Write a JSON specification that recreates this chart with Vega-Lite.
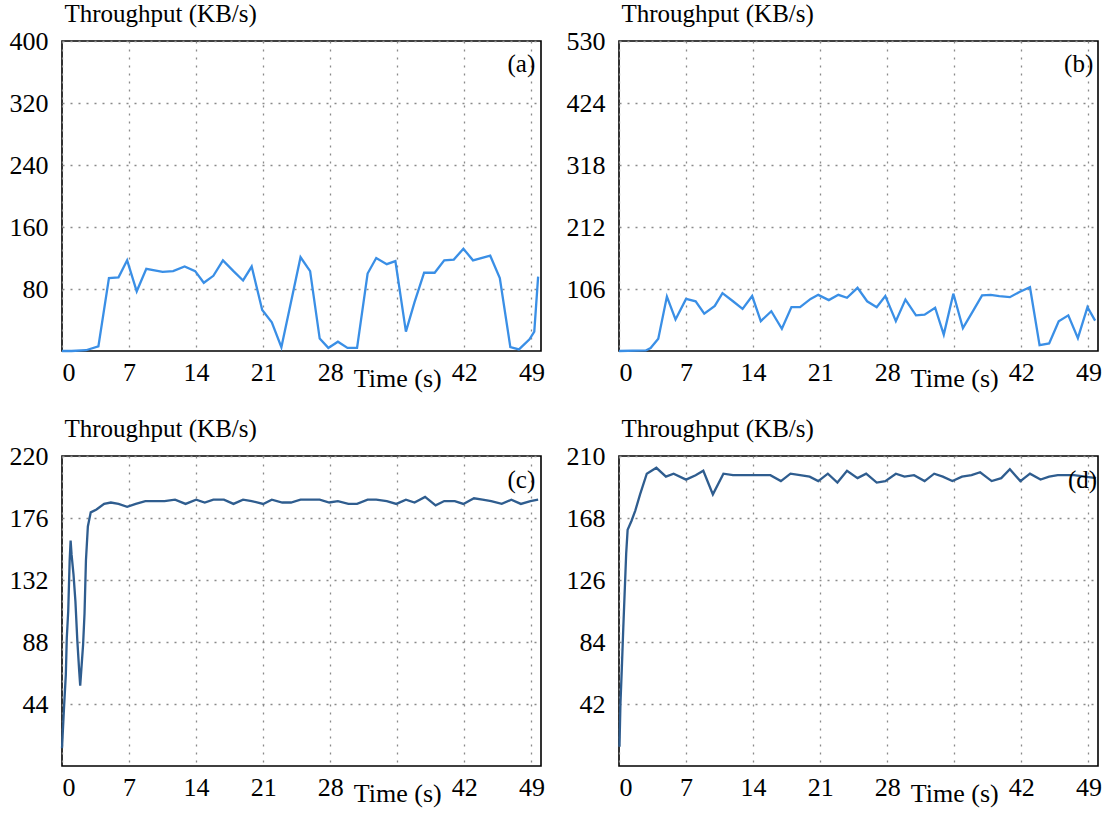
{
  "$schema": "https://vega.github.io/schema/vega-lite/v6.json",
  "background": "white",
  "padding": {"left": 8, "top": 0, "right": 4, "bottom": 4},
  "autosize": {"type": "pad"},
  "config": {
    "font": "Liberation Serif",
    "view": {"stroke": "black", "strokeWidth": 1.6},
    "axis": {
      "labelFont": "Liberation Serif", "labelFontSize": 26, "labelColor": "black",
      "titleFont": "Liberation Serif", "titleFontSize": 25, "titleFontWeight": "normal", "titleColor": "black",
      "domain": false, "ticks": false, "grid": true,
      "gridColor": "#8a8a8a", "gridDash": [2, 6], "gridWidth": 1.3
    },
    "axisX": {"labelPadding": 8, "title": null},
    "axisY": {"labelPadding": 14, "titleAngle": 0, "titleAlign": "left", "titleBaseline": "alphabetic", "titleX": 2, "titleY": -20}
  },
  "datasets": {
    "a": [
      {"t": 0, "v": 0}, {"t": 1, "v": 0}, {"t": 2.5, "v": 1}, {"t": 3.8, "v": 6}, {"t": 4.9, "v": 94}, {"t": 5.9, "v": 95}, {"t": 6.8, "v": 117}, {"t": 7.8, "v": 77}, {"t": 8.8, "v": 106}, {"t": 10.5, "v": 102}, {"t": 11.6, "v": 103}, {"t": 12.8, "v": 109}, {"t": 13.9, "v": 103}, {"t": 14.8, "v": 88}, {"t": 15.8, "v": 97}, {"t": 16.8, "v": 117}, {"t": 17.9, "v": 103}, {"t": 18.9, "v": 91}, {"t": 19.8, "v": 109}, {"t": 20.9, "v": 53}, {"t": 21.9, "v": 37}, {"t": 22.9, "v": 5}, {"t": 23.9, "v": 63}, {"t": 24.9, "v": 121}, {"t": 25.9, "v": 103}, {"t": 26.9, "v": 16}, {"t": 27.8, "v": 4}, {"t": 28.8, "v": 12}, {"t": 29.8, "v": 4}, {"t": 30.8, "v": 4}, {"t": 31.9, "v": 100}, {"t": 32.8, "v": 120}, {"t": 33.9, "v": 112}, {"t": 34.8, "v": 116}, {"t": 35.9, "v": 25}, {"t": 36.8, "v": 63}, {"t": 37.8, "v": 101}, {"t": 38.9, "v": 101}, {"t": 39.9, "v": 117}, {"t": 40.9, "v": 118}, {"t": 41.9, "v": 132}, {"t": 42.9, "v": 117}, {"t": 44.7, "v": 123}, {"t": 45.7, "v": 94}, {"t": 46.8, "v": 5}, {"t": 47.7, "v": 2}, {"t": 48.8, "v": 15}, {"t": 49.3, "v": 25}, {"t": 49.7, "v": 96}
    ],
    "b": [
      {"t": 0, "v": 0}, {"t": 2.8, "v": 1}, {"t": 3.3, "v": 5}, {"t": 4.1, "v": 21}, {"t": 5.0, "v": 93}, {"t": 5.9, "v": 54}, {"t": 7.0, "v": 89}, {"t": 8.0, "v": 85}, {"t": 8.9, "v": 64}, {"t": 10.0, "v": 77}, {"t": 10.8, "v": 99}, {"t": 11.9, "v": 85}, {"t": 12.9, "v": 72}, {"t": 13.9, "v": 94}, {"t": 14.8, "v": 51}, {"t": 15.9, "v": 68}, {"t": 17.0, "v": 38}, {"t": 18.0, "v": 75}, {"t": 18.9, "v": 75}, {"t": 20.0, "v": 89}, {"t": 20.8, "v": 96}, {"t": 21.9, "v": 87}, {"t": 22.9, "v": 96}, {"t": 23.8, "v": 91}, {"t": 24.9, "v": 108}, {"t": 25.9, "v": 85}, {"t": 26.9, "v": 75}, {"t": 27.8, "v": 94}, {"t": 28.9, "v": 51}, {"t": 29.9, "v": 88}, {"t": 31.0, "v": 61}, {"t": 31.9, "v": 62}, {"t": 33.0, "v": 74}, {"t": 33.9, "v": 28}, {"t": 34.9, "v": 98}, {"t": 35.9, "v": 39}, {"t": 36.9, "v": 67}, {"t": 37.9, "v": 95}, {"t": 38.8, "v": 96}, {"t": 39.7, "v": 94}, {"t": 40.8, "v": 92}, {"t": 41.8, "v": 101}, {"t": 42.9, "v": 109}, {"t": 43.9, "v": 10}, {"t": 44.9, "v": 13}, {"t": 45.9, "v": 51}, {"t": 46.9, "v": 61}, {"t": 47.9, "v": 22}, {"t": 48.9, "v": 75}, {"t": 49.7, "v": 52}
    ],
    "c": [
      {"t": 0, "v": 12.6}, {"t": 0.2, "v": 40}, {"t": 0.4, "v": 65}, {"t": 0.5, "v": 91}, {"t": 0.65, "v": 110}, {"t": 0.8, "v": 146}, {"t": 0.9, "v": 160}, {"t": 1.0, "v": 150}, {"t": 1.2, "v": 136}, {"t": 1.4, "v": 117}, {"t": 1.6, "v": 89}, {"t": 1.8, "v": 67}, {"t": 1.9, "v": 57}, {"t": 2.2, "v": 86}, {"t": 2.35, "v": 108}, {"t": 2.5, "v": 146}, {"t": 2.7, "v": 170}, {"t": 3.0, "v": 180}, {"t": 3.6, "v": 182}, {"t": 4.4, "v": 186}, {"t": 5.1, "v": 187}, {"t": 5.9, "v": 186}, {"t": 6.8, "v": 184}, {"t": 7.7, "v": 186}, {"t": 8.7, "v": 188}, {"t": 9.6, "v": 188}, {"t": 10.7, "v": 188}, {"t": 11.8, "v": 189}, {"t": 12.9, "v": 186}, {"t": 14.0, "v": 189}, {"t": 14.9, "v": 187}, {"t": 15.8, "v": 189}, {"t": 16.9, "v": 189}, {"t": 17.9, "v": 186}, {"t": 18.9, "v": 189}, {"t": 19.8, "v": 188}, {"t": 21.0, "v": 186}, {"t": 21.9, "v": 189}, {"t": 23.0, "v": 187}, {"t": 23.9, "v": 187}, {"t": 24.9, "v": 189}, {"t": 26.9, "v": 189}, {"t": 27.9, "v": 187}, {"t": 28.8, "v": 188}, {"t": 29.9, "v": 186}, {"t": 30.8, "v": 186}, {"t": 31.9, "v": 189}, {"t": 32.8, "v": 189}, {"t": 33.9, "v": 188}, {"t": 34.9, "v": 186}, {"t": 35.9, "v": 189}, {"t": 36.8, "v": 187}, {"t": 37.9, "v": 191}, {"t": 39.0, "v": 185}, {"t": 39.9, "v": 188}, {"t": 41.0, "v": 188}, {"t": 41.9, "v": 186}, {"t": 43.0, "v": 190}, {"t": 43.9, "v": 189}, {"t": 44.8, "v": 188}, {"t": 45.9, "v": 186}, {"t": 46.9, "v": 189}, {"t": 47.9, "v": 186}, {"t": 48.9, "v": 188}, {"t": 49.7, "v": 189}
    ],
    "d": [
      {"t": 0.05, "v": 13}, {"t": 0.15, "v": 42}, {"t": 0.3, "v": 67}, {"t": 0.45, "v": 94}, {"t": 0.6, "v": 119}, {"t": 0.75, "v": 144}, {"t": 0.9, "v": 160}, {"t": 1.3, "v": 166}, {"t": 1.7, "v": 173}, {"t": 2.2, "v": 184}, {"t": 2.9, "v": 198}, {"t": 3.9, "v": 202}, {"t": 4.9, "v": 196}, {"t": 5.7, "v": 198}, {"t": 7.0, "v": 194}, {"t": 8.0, "v": 197}, {"t": 8.8, "v": 200}, {"t": 9.8, "v": 184}, {"t": 10.9, "v": 198}, {"t": 11.9, "v": 197}, {"t": 15.8, "v": 197}, {"t": 16.9, "v": 193}, {"t": 17.9, "v": 198}, {"t": 18.9, "v": 197}, {"t": 19.9, "v": 196}, {"t": 20.8, "v": 193}, {"t": 21.8, "v": 198}, {"t": 22.8, "v": 192}, {"t": 23.8, "v": 200}, {"t": 24.9, "v": 195}, {"t": 25.8, "v": 198}, {"t": 26.9, "v": 192}, {"t": 27.8, "v": 193}, {"t": 28.9, "v": 198}, {"t": 29.8, "v": 196}, {"t": 30.8, "v": 197}, {"t": 31.9, "v": 193}, {"t": 32.9, "v": 198}, {"t": 33.8, "v": 196}, {"t": 34.8, "v": 193}, {"t": 35.8, "v": 196}, {"t": 36.8, "v": 197}, {"t": 37.7, "v": 199}, {"t": 38.9, "v": 193}, {"t": 39.9, "v": 195}, {"t": 40.8, "v": 201}, {"t": 41.9, "v": 193}, {"t": 42.9, "v": 198}, {"t": 44.0, "v": 194}, {"t": 44.9, "v": 196}, {"t": 45.8, "v": 197}, {"t": 46.8, "v": 197}, {"t": 47.5, "v": 197}, {"t": 49.8, "v": 195}
    ]
  },
  "columns": 2,
  "bounds": "flush",
  "spacing": {"row": 105, "column": 78},
  "concat": [
    {
      "width": 479, "height": 310,
      "layer": [
        {
          "data": {"name": "a"},
          "mark": {"type": "line", "color": "#3a8fe6", "strokeWidth": 2.3},
          "encoding": {
            "x": {"field": "t", "type": "quantitative", "scale": {"domain": [0, 50], "nice": false, "zero": false},
              "axis": {"values": [0, 7, 14, 21, 28, 35, 42, 49], "labelExpr": "datum.value == 35 ? 'Time (s)' : datum.label", "labelPadding": {"condition": {"test": "datum.value == 35", "value": 14}, "value": 8}}},
            "y": {"field": "v", "type": "quantitative", "scale": {"domain": [0, 400], "nice": false},
              "axis": {"values": [80, 160, 240, 320, 400], "title": "Throughput (KB/s)"}}
          }
        },
        {
          "data": {"values": [{"label": "(a)"}]},
          "mark": {"type": "text", "align": "right", "baseline": "middle", "fontSize": 25, "font": "Liberation Serif", "color": "black"},
          "encoding": {"x": {"datum": 49.4}, "y": {"datum": 370}, "text": {"field": "label"}}
        }
      ]
    },
    {
      "width": 479, "height": 310,
      "layer": [
        {
          "data": {"name": "b"},
          "mark": {"type": "line", "color": "#3a8fe6", "strokeWidth": 2.3},
          "encoding": {
            "x": {"field": "t", "type": "quantitative", "scale": {"domain": [0, 50], "nice": false, "zero": false},
              "axis": {"values": [0, 7, 14, 21, 28, 35, 42, 49], "labelExpr": "datum.value == 35 ? 'Time (s)' : datum.label", "labelPadding": {"condition": {"test": "datum.value == 35", "value": 14}, "value": 8}}},
            "y": {"field": "v", "type": "quantitative", "scale": {"domain": [0, 530], "nice": false},
              "axis": {"values": [106, 212, 318, 424, 530], "title": "Throughput (KB/s)"}}
          }
        },
        {
          "data": {"values": [{"label": "(b)"}]},
          "mark": {"type": "text", "align": "right", "baseline": "middle", "fontSize": 25, "font": "Liberation Serif", "color": "black"},
          "encoding": {"x": {"datum": 49.5}, "y": {"datum": 491}, "text": {"field": "label"}}
        }
      ]
    },
    {
      "width": 479, "height": 310,
      "layer": [
        {
          "data": {"name": "c"},
          "mark": {"type": "line", "color": "#2f5d8f", "strokeWidth": 2.3},
          "encoding": {
            "x": {"field": "t", "type": "quantitative", "scale": {"domain": [0, 50], "nice": false, "zero": false},
              "axis": {"values": [0, 7, 14, 21, 28, 35, 42, 49], "labelExpr": "datum.value == 35 ? 'Time (s)' : datum.label", "labelPadding": {"condition": {"test": "datum.value == 35", "value": 14}, "value": 8}}},
            "y": {"field": "v", "type": "quantitative", "scale": {"domain": [0, 220], "nice": false},
              "axis": {"values": [44, 88, 132, 176, 220], "title": "Throughput (KB/s)"}}
          }
        },
        {
          "data": {"values": [{"label": "(c)"}]},
          "mark": {"type": "text", "align": "right", "baseline": "middle", "fontSize": 25, "font": "Liberation Serif", "color": "black"},
          "encoding": {"x": {"datum": 49.4}, "y": {"datum": 203}, "text": {"field": "label"}}
        }
      ]
    },
    {
      "width": 479, "height": 310,
      "layer": [
        {
          "data": {"name": "d"},
          "mark": {"type": "line", "color": "#2f5d8f", "strokeWidth": 2.3},
          "encoding": {
            "x": {"field": "t", "type": "quantitative", "scale": {"domain": [0, 50], "nice": false, "zero": false},
              "axis": {"values": [0, 7, 14, 21, 28, 35, 42, 49], "labelExpr": "datum.value == 35 ? 'Time (s)' : datum.label", "labelPadding": {"condition": {"test": "datum.value == 35", "value": 14}, "value": 8}}},
            "y": {"field": "v", "type": "quantitative", "scale": {"domain": [0, 210], "nice": false},
              "axis": {"values": [42, 84, 126, 168, 210], "title": "Throughput (KB/s)"}}
          }
        },
        {
          "data": {"values": [{"label": "(d)"}]},
          "mark": {"type": "text", "align": "right", "baseline": "middle", "fontSize": 25, "font": "Liberation Serif", "color": "black"},
          "encoding": {"x": {"datum": 49.9}, "y": {"datum": 194}, "text": {"field": "label"}}
        }
      ]
    }
  ]
}
